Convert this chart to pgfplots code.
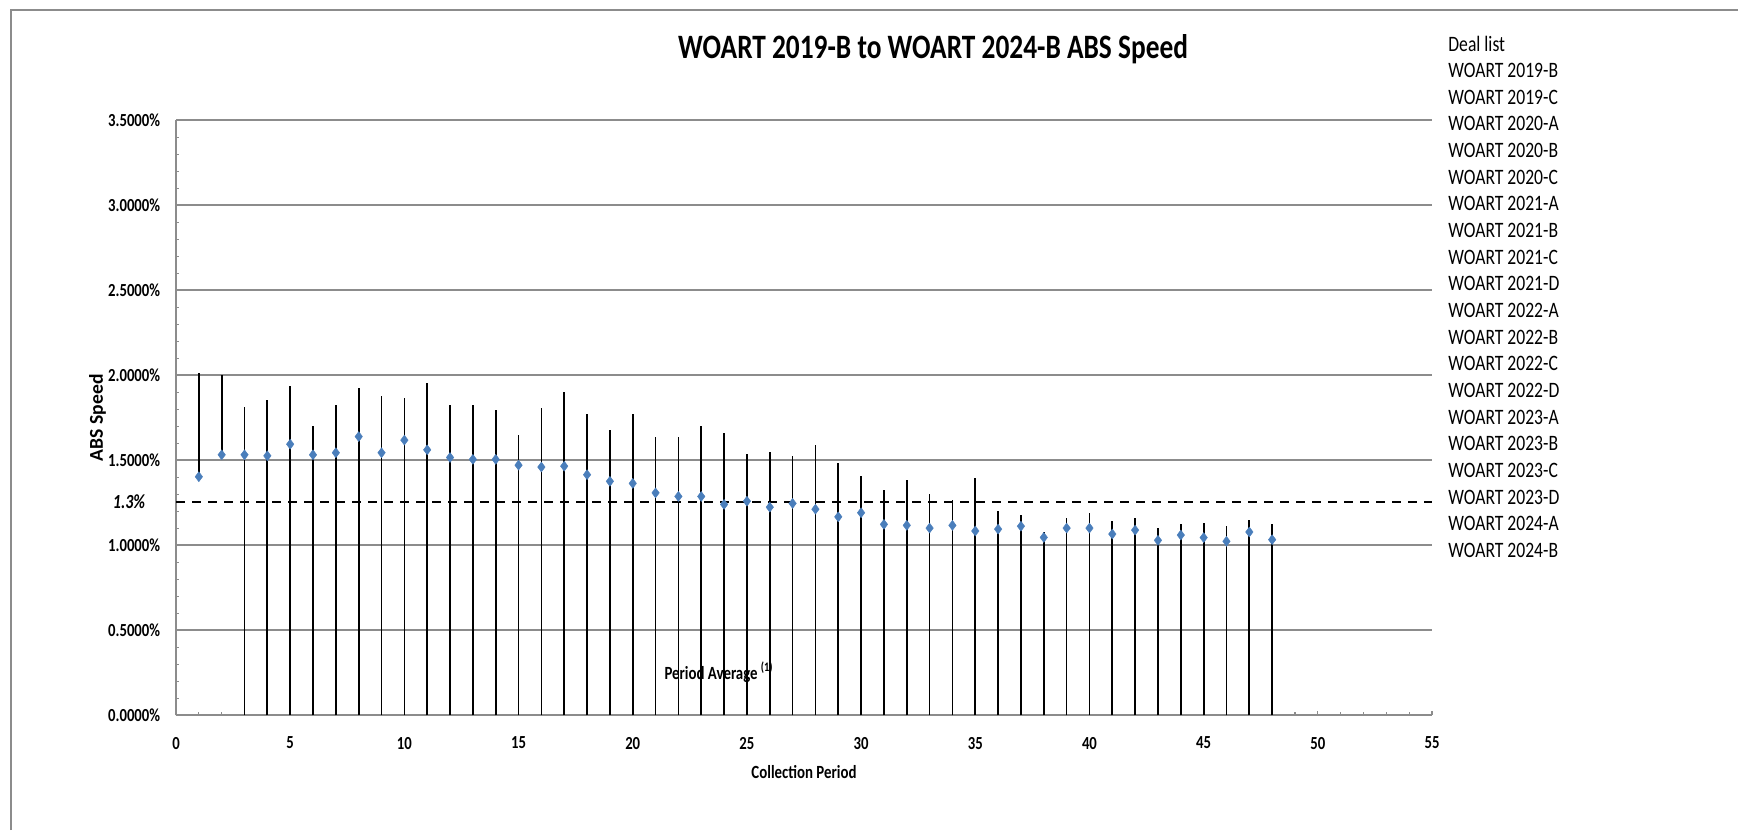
\documentclass[border=0pt]{standalone}
\usepackage{fontspec}
\setmainfont{Carlito}[FakeStretch=0.8]
\newfontfamily\ylabfont{Carlito}
\usepackage{pgfplots}
\usepackage{pgfplotstable}
\pgfplotsset{compat=1.18}
\definecolor{dotblue}{RGB}{74,126,187}
\definecolor{gridgray}{RGB}{140,140,140}

\pgfplotstableread{
p lo hi avg
1 1.403 2.015 1.403
2 1.532 2.000 1.532
3 0 1.813 1.532
4 0 1.857 1.526
5 0 1.936 1.594
6 0 1.699 1.532
7 0 1.825 1.544
8 0 1.924 1.639
9 0 1.875 1.544
10 0 1.863 1.618
11 0 1.953 1.561
12 0 1.825 1.516
13 0 1.825 1.505
14 0 1.795 1.505
15 0 1.649 1.471
16 0 1.807 1.460
17 0 1.902 1.465
18 0 1.772 1.415
19 0 1.678 1.376
20 0 1.772 1.364
21 0 1.639 1.308
22 0 1.639 1.287
23 0 1.702 1.287
24 0 1.661 1.240
25 0 1.534 1.259
26 0 1.546 1.224
27 0 1.522 1.246
28 0 1.591 1.212
29 0 1.483 1.167
30 0 1.409 1.191
31 0 1.322 1.123
32 0 1.382 1.117
33 0 1.302 1.101
34 0 1.265 1.117
35 0 1.394 1.084
36 0 1.202 1.095
37 0 1.179 1.112
38 0 1.078 1.046
39 0 1.161 1.101
40 0 1.191 1.101
41 0 1.140 1.066
42 0 1.161 1.089
43 0 1.099 1.029
44 0 1.123 1.060
45 0 1.129 1.045
46 0 1.111 1.023
47 0 1.150 1.078
48 0 1.123 1.033
}\speed

\begin{document}
\begin{tikzpicture}
\useasboundingbox (0,0) rectangle (869pt,-415pt);
\begin{scope}[x=0.5pt,y=-0.5pt]
  \draw[gridgray, line width=0.8pt] (11,830) -- (11,10) -- (1738,10);
  \node[anchor=base, font=\fontsize{17.1}{20}\selectfont\bfseries] at (933,58) {WOART 2019-B to WOART 2024-B ABS Speed};
  \foreach \n [count=\i from 0] in {Deal list,WOART 2019-B,WOART 2019-C,WOART 2020-A,WOART 2020-B,WOART 2020-C,WOART 2021-A,WOART 2021-B,WOART 2021-C,WOART 2021-D,WOART 2022-A,WOART 2022-B,WOART 2022-C,WOART 2022-D,WOART 2023-A,WOART 2023-B,WOART 2023-C,WOART 2023-D,WOART 2024-A,WOART 2024-B}{
    \node[anchor=base west, inner sep=0pt, font=\fontsize{11}{13}\selectfont] at (1448,{51+26.66*\i}) {\n};
  }
\end{scope}
\begin{axis}[
  at={(88pt,-357.65pt)}, anchor=south west,
  scale only axis, width=628pt, height=297.6pt,
  xmin=0, xmax=55, ymin=0, ymax=3.5,
  clip=false,
  axis x line*=bottom, axis y line*=left,
  axis line style={gridgray, line width=0.9pt, -},
  ymajorgrids, grid style={gridgray, line width=0.9pt},
  ytick={0,0.5,1,1.5,2,2.5,3,3.5},
  minor y tick num=4,
  xtick={0,5,10,15,20,25,30,35,40,45,50,55},
  minor x tick num=4,
  tick align=inside,
  major tick length=2pt, minor tick length=1.6pt,
  tick style={gridgray, line width=0.6pt},
  /pgf/number format/assume math mode=true,
  yticklabel={\pgfmathprintnumber[fixed,fixed zerofill,precision=4]{\tick}\%},
  yticklabel style={font=\fontsize{9.2}{11}\selectfont\bfseries, xshift=-4.4pt},
  xticklabel style={font=\fontsize{9.2}{11}\selectfont\bfseries, yshift=-7.3pt},
  xlabel={Collection Period},
  xlabel style={at={(axis description cs:0.5,0)}, anchor=center, yshift=-28.35pt, font=\fontsize{9.3}{11}\selectfont\bfseries},
  ylabel={ABS Speed},
  ylabel style={at={(axis description cs:-0.0625,0.5)}, anchor=center, rotate=0, font=\fontsize{9.8}{11}\selectfont\ylabfont\bfseries},
]
\addplot[draw=none, mark=none, forget plot,
  error bars/.cd, y dir=plus, y explicit,
  error mark=none,
  error bar style={draw=black, solid, line width=0.85pt}]
  table[x=p, y=lo, y error expr=\thisrow{hi}-\thisrow{lo}] {\speed};
\addplot[black, line width=1pt, dash pattern=on 4.5pt off 3.5pt, mark=none] coordinates {(0,1.2535) (55,1.2535)};
\addplot[only marks, mark=diamond*, mark size=2.5pt, color=dotblue, mark options={draw=dotblue, fill=dotblue, line width=0.2pt}]
  table[x=p, y=avg] {\speed};
\node[anchor=center, font=\fontsize{10}{12}\selectfont\bfseries\itshape, xshift=-23.5pt] at (axis cs:0,1.2535) {1.3\%};
\node[anchor=center, font=\fontsize{9.3}{11}\selectfont\bfseries] at (axis cs:23.78,0.254) {Period Average\,\textsuperscript{(1)}};
\end{axis}
\end{tikzpicture}
\end{document}
